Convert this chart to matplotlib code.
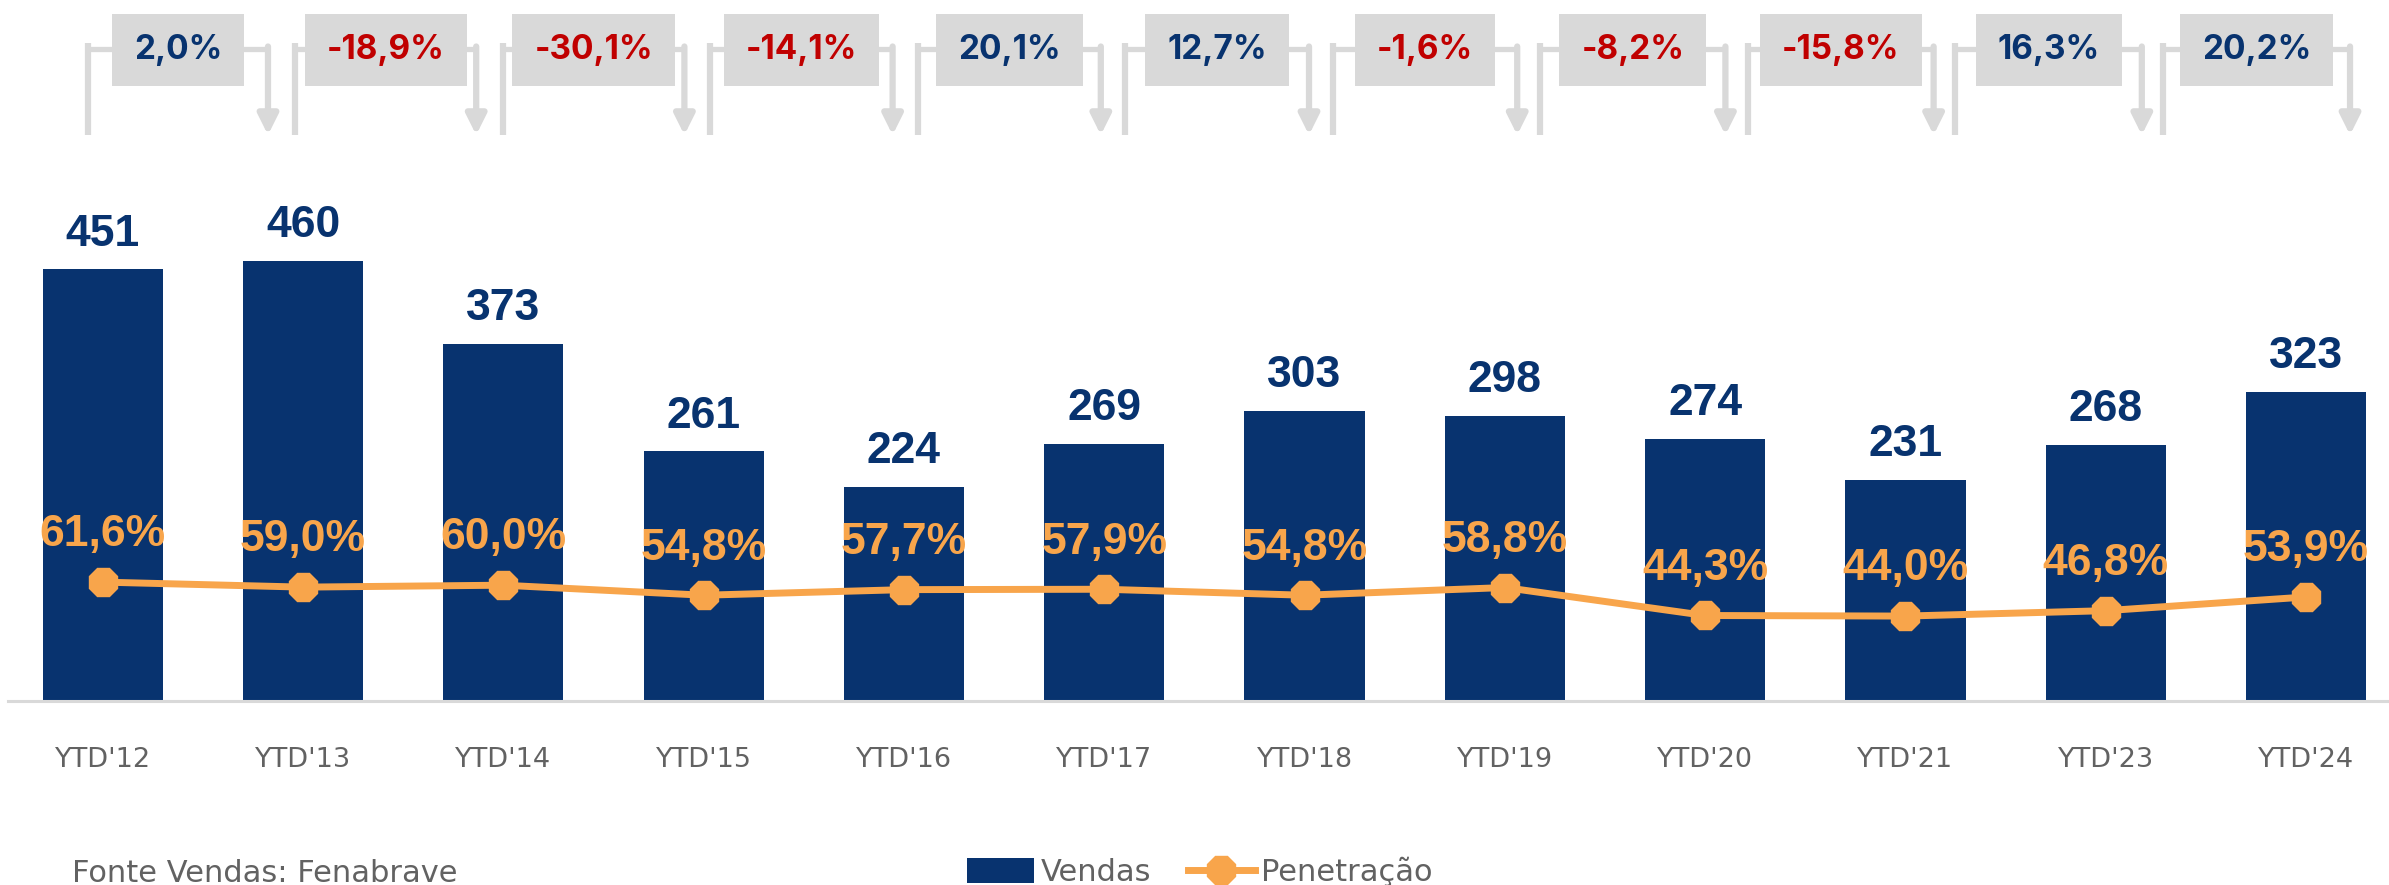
import matplotlib.pyplot as plt
from matplotlib.patches import Rectangle
from matplotlib.transforms import blended_transform_factory

anos = ["YTD'12", "YTD'13", "YTD'14", "YTD'15", "YTD'16", "YTD'17",
        "YTD'18", "YTD'19", "YTD'20", "YTD'21", "YTD'23", "YTD'24"]
vendas = [451, 460, 373, 261, 224, 269, 303, 298, 274, 231, 268, 323]
penetracao = [61.6, 59.0, 60.0, 54.8, 57.7, 57.9, 54.8, 58.8, 44.3, 44.0, 46.8, 53.9]
variacao = [2.0, -18.9, -30.1, -14.1, 20.1, 12.7, -1.6, -8.2, -15.8, 16.3, 20.2]

AZUL = "#08336f"
LARANJA = "#f8a54b"
VERMELHO = "#c00000"
CINZA = "#d9d9d9"
TEXTO = "#626262"
NUM_FONT = ["Liberation Sans Narrow", "Liberation Sans", "DejaVu Sans"]
BOX_FONT = ["Inter", "DejaVu Sans"]
LAB_FONT = ["DejaVu Sans"]


def fmt(v):
    return f"{v:.1f}".replace(".", ",") + "%"


W, H = 2389, 885
fig = plt.figure(figsize=(W / 100, H / 100), dpi=100)
ax = fig.add_axes([8 / W, 184 / H, 1 - 8 / W, 701 / H])
x = list(range(len(anos)))

# barras de vendas
bars = ax.bar(x, vendas, width=0.6, color=AZUL, label="Vendas", zorder=2)
ax.bar_label(bars, labels=[str(v) for v in vendas], padding=10.5,
             fontsize=32, fontweight="bold", color=AZUL, family=NUM_FONT)

ax.set_xlim(-0.473, 11.414)
ax.set_ylim(0, 732.5)
ax.set_xticks(x)
ax.set_xticklabels(anos, fontsize=19.5, color=TEXTO, family=LAB_FONT)
ax.tick_params(axis="x", length=0, pad=33)
ax.set_yticks([])
for s in ["top", "left", "right"]:
    ax.spines[s].set_visible(False)
ax.spines["bottom"].set_color(CINZA)
ax.spines["bottom"].set_linewidth(2.2)

# linha de penetracao
ax2 = ax.twinx()
ln, = ax2.plot(x, penetracao, color=LARANJA, lw=5, marker="8", markersize=22,
               label="Penetração", zorder=3)
ax2.set_ylim(0, 363.2)
ax2.set_yticks([])
for s in ["top", "left", "right", "bottom"]:
    ax2.spines[s].set_visible(False)
for xi, p in zip(x, penetracao):
    ax2.annotate(fmt(p), (xi, p), xytext=(0, 34), textcoords="offset points",
                 ha="center", va="center", fontsize=32, fontweight="bold",
                 color=LARANJA, family=NUM_FONT)

# chaves de variacao no topo
trans = blended_transform_factory(ax.transData, fig.transFigure)
def fy(px):
    return 1 - px / H

passo_esq = 207.5 / 200.3
passo_dir = 208.2 / 200.3
caixas = []
for k, v in enumerate(variacao):
    xl = -0.074 + k * passo_esq
    xr = 0.825 + k * passo_dir
    ax.plot([xl, xl], [fy(43), fy(135)], color=CINZA, lw=4.5,
            solid_capstyle="butt", transform=trans, clip_on=False)
    ax.plot([xl, xr], [fy(49), fy(49)], color=CINZA, lw=3.8,
            solid_capstyle="butt", transform=trans, clip_on=False)
    ax.annotate("", xy=(xr, fy(135)), xytext=(xr, fy(46.5)),
                xycoords=trans, textcoords=trans,
                arrowprops=dict(arrowstyle="-|>,head_length=0.4,head_width=0.2",
                                mutation_scale=30, color=CINZA, lw=4.5,
                                shrinkA=0, shrinkB=0))
    t = ax.text((xl + xr) / 2, fy(50), fmt(v), transform=trans, ha="center",
                va="center", fontsize=24, fontweight="bold", zorder=5,
                color=AZUL if v >= 0 else VERMELHO, family=BOX_FONT)
    caixas.append(t)

# caixas cinza atras dos textos
fig.canvas.draw()
r = fig.canvas.get_renderer()
for t in caixas:
    bb = t.get_window_extent(r)
    cx = (bb.x0 + bb.x1) / 2
    w = bb.width + 44
    fig.add_artist(Rectangle(((cx - w / 2) / W, fy(86)), w / W, 72 / H,
                             transform=fig.transFigure, fc=CINZA, ec="none",
                             zorder=1))
    t.remove()
    fig.text(cx / W, fy(50), t.get_text(), ha="center", va="center",
             fontsize=24, fontweight="bold", color=t.get_color(),
             family=BOX_FONT, zorder=2)

fig.text(72 / W, fy(873), "Fonte Vendas: Fenabrave", fontsize=22, color=TEXTO,
         family=LAB_FONT, va="center")

fig.legend(handles=[bars, ln], labels=["Vendas", "Penetração"], loc="center left",
           bbox_to_anchor=(967 / W, fy(872)), ncol=2, frameon=False,
           handlelength=2.2, handleheight=0.85, handletextpad=0.2,
           columnspacing=1.2, borderpad=0, borderaxespad=0, numpoints=1,
           prop=dict(family=LAB_FONT, size=22), labelcolor=TEXTO)

fig.savefig("out.png", dpi=100)
